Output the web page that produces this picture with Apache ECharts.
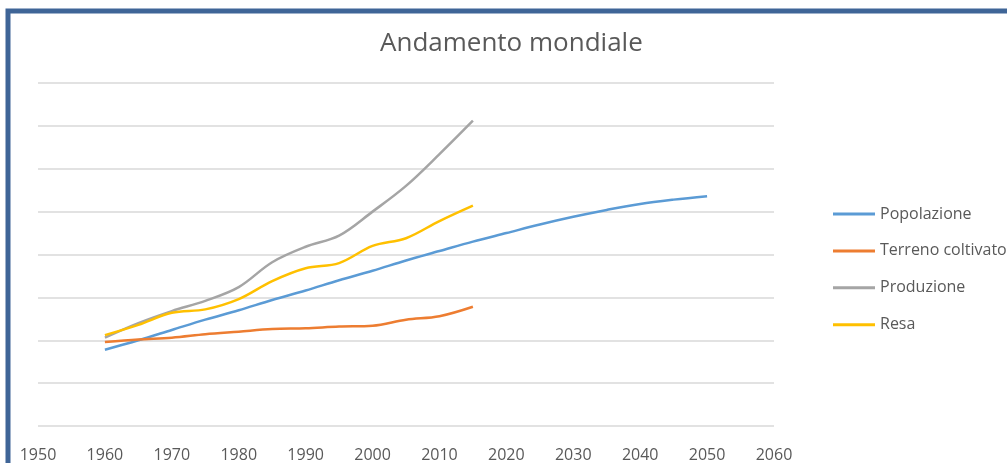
<!DOCTYPE html>
<html>
<head>
<meta charset="utf-8">
<script src="https://cdn.jsdelivr.net/npm/echarts@6/dist/echarts.min.js"></script>
<style>
  html, body { margin: 0; padding: 0; background: #ffffff; }
  #chart { width: 1007px; height: 463px; }
</style>
</head>
<body>
<div id="chart"></div>
<script>
// Years sampled every five years
const years = [1960, 1965, 1970, 1975, 1980, 1985, 1990, 1995, 2000, 2005,
               2010, 2015, 2020, 2025, 2030, 2035, 2040, 2045, 2050];

// Index values per series (null where no data)
const popolazione = [89, 100, 112, 124, 135, 147, 158, 170, 181, 193,
                     204, 215, 225, 235, 244, 252, 259, 264, 268];
const terreno = [98, 101, 103, 107, 110, 113, 114, 116, 117, 124,
                 128, 139, null, null, null, null, null, null, null];
const produzione = [103, 120, 134, 146, 162, 191, 209, 222, 250, 280,
                    317, 356, null, null, null, null, null, null, null];
const resa = [106, 118, 132, 136, 148, 169, 184, 190, 210, 219,
              239, 257, null, null, null, null, null, null, null];

const seriesNames = ['Popolazione', 'Terreno coltivato', 'Produzione', 'Resa'];
const seriesColors = ['#5b9bd5', '#ed7d31', '#a5a5a5', '#ffc000'];
const seriesValues = [popolazione, terreno, produzione, resa];

const chart = echarts.init(document.getElementById('chart'));

function pairs(values) {
  const out = [];
  years.forEach((y, i) => { if (values[i] != null) out.push([y, values[i]]); });
  return out;
}

chart.setOption({
  backgroundColor: '#ffffff',
  animation: false,
  title: {
    text: 'Andamento mondiale',
    left: 380,
    top: 31,
    padding: 0,
    textStyle: { fontFamily: 'Open Sans', fontSize: 26, fontWeight: 'normal', color: '#595959' }
  },
  legend: {
    orient: 'vertical',
    left: 828,
    top: 201,
    icon: 'rect',
    itemWidth: 42,
    itemHeight: 3,
    itemGap: 20.9,
    data: seriesNames,
    textStyle: { fontFamily: 'Open Sans', fontSize: 16, color: '#595959' }
  },
  grid: { left: 38, right: 233, top: 83, bottom: 34, containLabel: false },
  xAxis: {
    type: 'value',
    min: 1950,
    max: 2060,
    interval: 10,
    axisLine: { show: false },
    axisTick: { show: false },
    splitLine: { show: false },
    axisLabel: {
      margin: 21,
      fontFamily: 'Open Sans',
      fontSize: 16,
      color: '#595959',
      formatter: v => String(v)
    }
  },
  yAxis: {
    type: 'value',
    min: 0,
    max: 400,
    interval: 50,
    axisLine: { show: false },
    axisTick: { show: false },
    axisLabel: { show: false },
    splitLine: { lineStyle: { color: '#d9d9d9', width: 1.5 } }
  },
  graphic: [{
    type: 'rect',
    shape: { x: 8, y: 11, width: 1100, height: 600 },
    style: { fill: 'none', stroke: '#3f6597', lineWidth: 5 },
    z: 100
  }],
  series: seriesNames.map((name, i) => ({
    name: name,
    type: 'line',
    data: pairs(seriesValues[i]),
    smooth: 0.35,
    symbol: 'none',
    lineStyle: { color: seriesColors[i], width: 2.5 },
    itemStyle: { color: seriesColors[i] }
  }))
});
</script>
</body>
</html>
